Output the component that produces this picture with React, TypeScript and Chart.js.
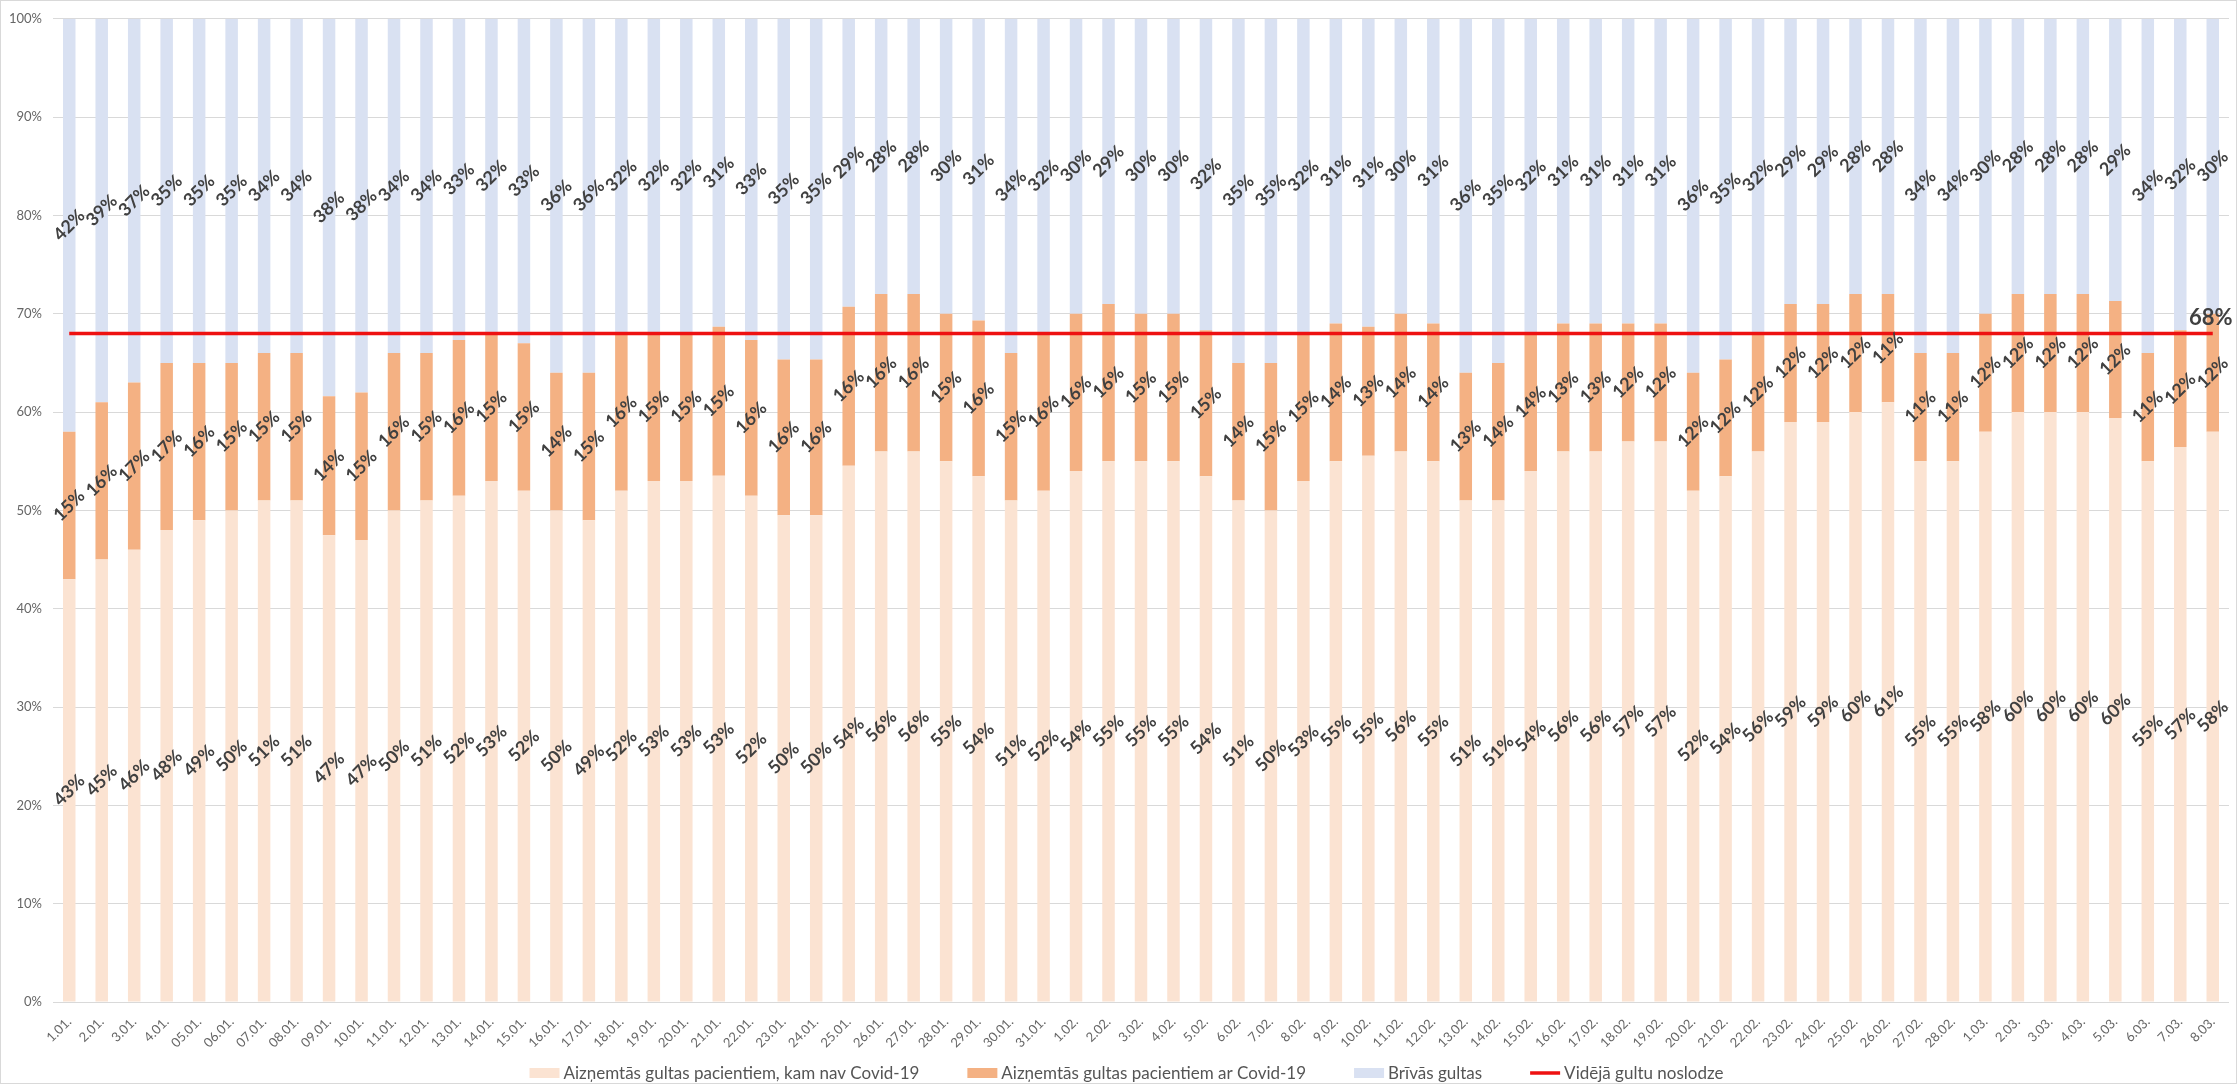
import { useEffect, useRef } from 'react';
import { Chart, registerables } from 'chart.js';

Chart.register(...registerables);

const categories = [
  '1.01.', '2.01.', '3.01.', '4.01.', '05.01.', '06.01.', '07.01.', '08.01.', '09.01.', '10.01.',
  '11.01.', '12.01.', '13.01.', '14.01.', '15.01.', '16.01.', '17.01.', '18.01.', '19.01.', '20.01.',
  '21.01.', '22.01.', '23.01.', '24.01.', '25.01.', '26.01.', '27.01.', '28.01.', '29.01.', '30.01.', '31.01.',
  '1.02.', '2.02.', '3.02.', '4.02.', '5.02.', '6.02.', '7.02.', '8.02.', '9.02.', '10.02.',
  '11.02.', '12.02.', '13.02.', '14.02.', '15.02.', '16.02.', '17.02.', '18.02.', '19.02.', '20.02.',
  '21.02.', '22.02.', '23.02.', '24.02.', '25.02.', '26.02.', '27.02.', '28.02.',
  '1.03.', '2.03.', '3.03.', '4.03.', '5.03.', '6.03.', '7.03.', '8.03.',
];

// Aizņemtās gultas pacientiem, kam nav Covid-19 (%)
const nonCovidBeds = [
  43, 45, 46, 48, 49, 50, 51, 51, 47, 47,
  50, 51, 52, 53, 52, 50, 49, 52, 53, 53,
  53, 52, 50, 50, 54, 56, 56, 55, 54, 51, 52,
  54, 55, 55, 55, 54, 51, 50, 53, 55, 55,
  56, 55, 51, 51, 54, 56, 56, 57, 57, 52,
  54, 56, 59, 59, 60, 61, 55, 55,
  58, 60, 60, 60, 60, 55, 57, 58,
];

// Aizņemtās gultas pacientiem ar Covid-19 (%)
const covidBeds = [
  15, 16, 17, 17, 16, 15, 15, 15, 14, 15,
  16, 15, 16, 15, 15, 14, 15, 16, 15, 15,
  15, 16, 16, 16, 16, 16, 16, 15, 16, 15, 16,
  16, 16, 15, 15, 15, 14, 15, 15, 14, 13,
  14, 14, 13, 14, 14, 13, 13, 12, 12, 12,
  12, 12, 12, 12, 12, 11, 11, 11,
  12, 12, 12, 12, 12, 11, 12, 12,
];

// Brīvās gultas (%)
const freeBeds = [
  42, 39, 37, 35, 35, 35, 34, 34, 38, 38,
  34, 34, 33, 32, 33, 36, 36, 32, 32, 32,
  31, 33, 35, 35, 29, 28, 28, 30, 31, 34, 32,
  30, 29, 30, 30, 32, 35, 35, 32, 31, 31,
  30, 31, 36, 35, 32, 31, 31, 31, 31, 36,
  35, 32, 29, 29, 28, 28, 34, 34,
  30, 28, 28, 28, 29, 34, 32, 30,
];

// Vidējā gultu noslodze (%)
const averageLoad = 68;

const seriesNames = [
  'Aizņemtās gultas pacientiem, kam nav Covid-19',
  'Aizņemtās gultas pacientiem ar Covid-19',
  'Brīvās gultas',
  'Vidējā gultu noslodze',
];
const seriesColors = ['#FBE3D2', '#F4B183', '#D9E1F2', '#EE1111'];

const FONT = 'Lato, "Open Sans", "DejaVu Sans", sans-serif';
const W = 2237;
const H = 1084;

// 100% stacked: each day normalised to its total
const totals = categories.map((_, i) => nonCovidBeds[i] + covidBeds[i] + freeBeds[i]);
const pct = (arr: number[]) => arr.map((v, i) => (v / totals[i]) * 100);

const rawSeries = [nonCovidBeds, covidBeds, freeBeds];

const bgPlugin = {
  id: 'bg',
  beforeDraw(chart: any) {
    const ctx = chart.ctx;
    ctx.save();
    ctx.fillStyle = '#ffffff';
    ctx.fillRect(0, 0, chart.width, chart.height);
    ctx.strokeStyle = '#D9D9D9';
    ctx.lineWidth = 1;
    ctx.strokeRect(0.5, 0.5, chart.width - 1, chart.height - 1);
    ctx.restore();
  },
};

const labelPlugin = {
  id: 'barLabels',
  afterDatasetsDraw(chart: any) {
    const ctx = chart.ctx;
    ctx.save();
    ctx.font = `bold 18px ${FONT}`;
    ctx.fillStyle = '#404040';
    ctx.textAlign = 'center';
    ctx.textBaseline = 'middle';
    [0, 1, 2].forEach((di) => {
      const meta = chart.getDatasetMeta(di);
      meta.data.forEach((el: any, i: number) => {
        const cx = el.x;
        const cy = (el.y + el.base) / 2;
        ctx.save();
        ctx.translate(cx, cy);
        ctx.rotate(-Math.PI / 4);
        ctx.fillText(rawSeries[di][i] + '%', 0, 0);
        ctx.restore();
      });
    });
    const lm = chart.getDatasetMeta(3);
    const last = lm.data[lm.data.length - 1];
    ctx.font = `bold 22px ${FONT}`;
    ctx.textBaseline = 'alphabetic';
    ctx.fillText(averageLoad + '%', last.x - 2, last.y - 8);
    ctx.restore();
  },
};

const legendPlugin = {
  id: 'customLegend',
  afterDraw(chart: any) {
    const ctx = chart.ctx;
    ctx.save();
    ctx.font = `17px ${FONT}`;
    const boxW = 30;
    const boxH = 10;
    const textGap = 4;
    const itemGap = 48;
    const widths = seriesNames.map((n) => ctx.measureText(n).width);
    const total =
      widths.reduce((s, w) => s + boxW + textGap + w, 0) + itemGap * (seriesNames.length - 1);
    let x = chart.width / 2 + 8 - total / 2;
    const y = 1073;
    ctx.textBaseline = 'middle';
    ctx.textAlign = 'left';
    seriesNames.forEach((name, i) => {
      if (i === 3) {
        ctx.strokeStyle = seriesColors[i];
        ctx.lineWidth = 3.5;
        ctx.beginPath();
        ctx.moveTo(x, y);
        ctx.lineTo(x + boxW, y);
        ctx.stroke();
      } else {
        ctx.fillStyle = seriesColors[i];
        ctx.fillRect(x, y - boxH / 2, boxW, boxH);
      }
      ctx.fillStyle = '#555555';
      ctx.fillText(name, x + boxW + textGap, y + 1);
      x += boxW + textGap + widths[i] + itemGap;
    });
    ctx.restore();
  },
};

export default function App() {
  const canvasRef = useRef<HTMLCanvasElement | null>(null);

  useEffect(() => {
    if (!canvasRef.current) return;
    const chart = new Chart(canvasRef.current, {
      type: 'bar',
      data: {
        labels: categories,
        datasets: [
          {
            label: seriesNames[0],
            data: pct(nonCovidBeds),
            backgroundColor: seriesColors[0],
            order: 1,
            stack: 'beds',
          },
          {
            label: seriesNames[1],
            data: pct(covidBeds),
            backgroundColor: seriesColors[1],
            order: 1,
            stack: 'beds',
          },
          {
            label: seriesNames[2],
            data: pct(freeBeds),
            backgroundColor: seriesColors[2],
            order: 1,
            stack: 'beds',
          },
          {
            type: 'line',
            label: seriesNames[3],
            data: categories.map(() => averageLoad),
            borderColor: seriesColors[3],
            borderWidth: 3.5,
            pointRadius: 0,
            fill: false,
            order: 0,
            stack: 'avg',
          } as any,
        ],
      },
      options: {
        responsive: false,
        animation: false,
        devicePixelRatio: 1,
        datasets: {
          bar: {
            categoryPercentage: 1,
            barPercentage: 0.385,
          },
        },
        layout: {
          padding: { left: 0, right: 8, top: 16, bottom: 34 },
        },
        plugins: {
          legend: { display: false },
          tooltip: { enabled: false },
        },
        scales: {
          x: {
            stacked: true,
            grid: { display: false },
            border: { display: false },
            ticks: {
              autoSkip: false,
              minRotation: 45,
              maxRotation: 45,
              padding: 4,
              color: '#666666',
              font: { family: FONT, size: 13 },
            },
            afterFit: (scale: any) => {
              scale.height = 48;
            },
          },
          y: {
            stacked: true,
            min: 0,
            max: 100,
            grid: { color: '#D9D9D9', lineWidth: 1, drawTicks: false },
            border: { display: false },
            ticks: {
              stepSize: 10,
              padding: 11,
              color: '#666666',
              font: { family: FONT, size: 13 },
              callback: (v: any) => v + '%',
            },
            afterFit: (scale: any) => {
              scale.width = 53;
            },
          },
        },
      },
      plugins: [bgPlugin, labelPlugin, legendPlugin],
    });
    return () => chart.destroy();
  }, []);

  return (
    <div style={{ position: 'absolute', left: 0, top: 0, width: W, height: H }}>
      <canvas ref={canvasRef} width={W} height={H} style={{ width: W, height: H }} />
    </div>
  );
}
